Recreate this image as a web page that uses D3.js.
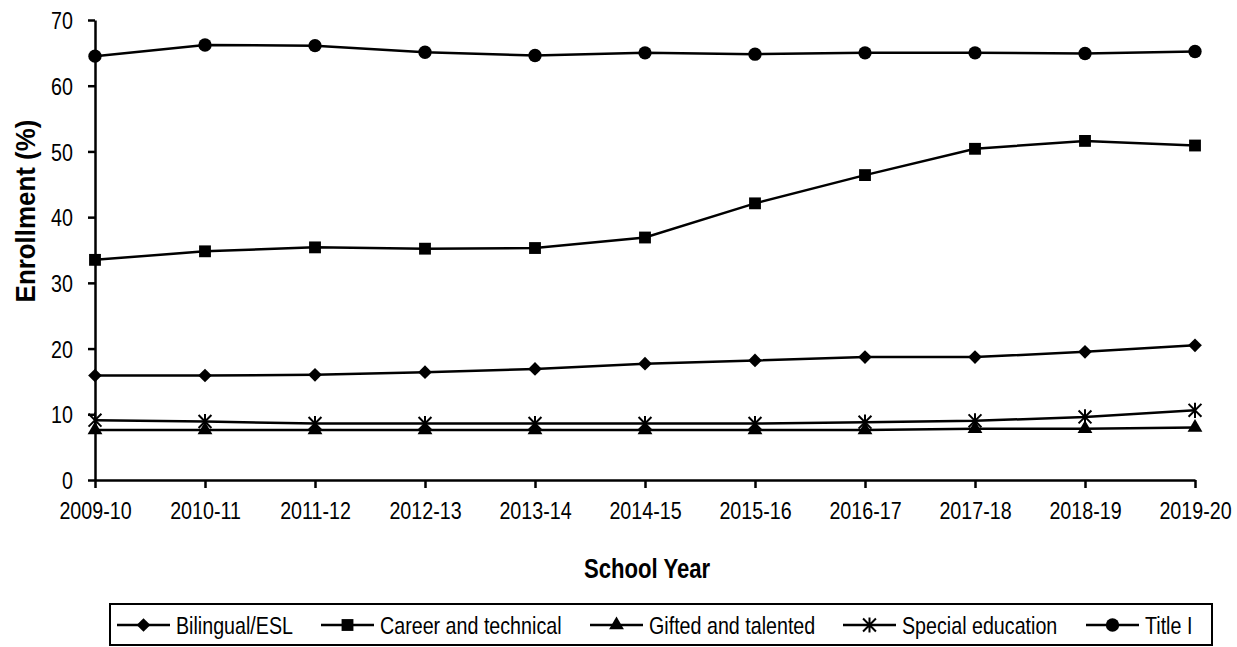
<!DOCTYPE html>
<html>
<head>
<meta charset="utf-8">
<script src="https://cdn.jsdelivr.net/npm/d3@7"></script>
<style>
  html, body { margin: 0; padding: 0; background: #fff; }
  svg { display: block; }
  text { font-family: "Liberation Sans", Arial, sans-serif; fill: #000; }
</style>
</head>
<body>
<svg id="chart" width="1237" height="647"></svg>
<script>
const years = ["2009-10","2010-11","2011-12","2012-13","2013-14","2014-15","2015-16","2016-17","2017-18","2018-19","2019-20"];
const bilingual = [15.9, 15.9, 16.0, 16.4, 16.9, 17.7, 18.2, 18.7, 18.7, 19.5, 20.5];
const career    = [33.5, 34.8, 35.4, 35.2, 35.3, 36.9, 42.1, 46.4, 50.4, 51.6, 50.9];
const gifted    = [7.6, 7.6, 7.6, 7.6, 7.6, 7.6, 7.6, 7.6, 7.8, 7.8, 8.0];
const special   = [9.1, 8.9, 8.6, 8.6, 8.6, 8.6, 8.6, 8.8, 9.0, 9.6, 10.6];
const titleI    = [64.5, 66.2, 66.1, 65.1, 64.6, 65.0, 64.8, 65.0, 65.0, 64.9, 65.2];
const yTicks = [0, 10, 20, 30, 40, 50, 60, 70];
const seriesNames = ["Bilingual/ESL", "Career and technical", "Gifted and talented", "Special education", "Title I"];
const xTitle = "School Year";
const yTitle = "Enrollment (%)";

const SX = 0.82; // horizontal squeeze to mimic a narrow face

const star = {
  draw(ctx, size) {
    const r = Math.sqrt(size) / 2;
    const d = r * 0.85;
    ctx.moveTo(0, -r); ctx.lineTo(0, r);
    ctx.moveTo(-d, -d); ctx.lineTo(d, d);
    ctx.moveTo(-d, d); ctx.lineTo(d, -d);
  }
};

const series = [
  { name: seriesNames[0], values: bilingual, symbol: d3.symbolDiamond2, size: 120, stroke: false },
  { name: seriesNames[1], values: career,    symbol: d3.symbolSquare,   size: 140, stroke: false },
  { name: seriesNames[2], values: gifted,    symbol: d3.symbolTriangle, size: 95,  stroke: false },
  { name: seriesNames[3], values: special,   symbol: star,              size: 230, stroke: true },
  { name: seriesNames[4], values: titleI,    symbol: d3.symbolCircle,   size: 140, stroke: false }
];

const svg = d3.select("#chart");
const x = d3.scalePoint().domain(years).range([95, 1195]);
const y = d3.scaleLinear().domain([0, 70]).range([480, 20]);

// axes
const yAxis = svg.append("g").attr("transform", "translate(95,0)")
  .call(d3.axisLeft(y).tickValues(yTicks).tickSize(7).tickPadding(9).tickSizeOuter(0));
const xAxis = svg.append("g").attr("transform", "translate(0,480)")
  .call(d3.axisBottom(x).tickSize(8).tickPadding(14).tickSizeOuter(0));
[yAxis, xAxis].forEach(a => {
  a.select(".domain").attr("stroke", "#000").attr("stroke-width", 2.5);
  a.selectAll(".tick line").attr("stroke", "#000").attr("stroke-width", 2.5);
  a.selectAll(".tick text").attr("font-size", 24).attr("fill", "#000")
    .attr("font-family", '"Liberation Sans", Arial, sans-serif');
});
yAxis.selectAll(".tick text").attr("dy", "0.36em").attr("x", -22 / SX).attr("transform", `scale(${SX},1)`);
xAxis.selectAll(".tick text").attr("transform", `scale(${SX},1)`);

// axis titles
svg.append("text").attr("transform", `translate(35,211) rotate(-90) scale(0.96,1)`)
  .attr("text-anchor", "middle").attr("font-size", 27).attr("font-weight", "bold").text(yTitle);
svg.append("text").attr("transform", `translate(647,578) scale(${SX},1)`)
  .attr("text-anchor", "middle").attr("font-size", 27).attr("font-weight", "bold").text(xTitle);

// lines and markers
const line = d3.line().x((d, i) => x(years[i])).y(d => y(d));
series.forEach(s => {
  svg.append("path").datum(s.values).attr("d", line)
    .attr("fill", "none").attr("stroke", "#000").attr("stroke-width", 2.5);
  svg.append("g").selectAll("path").data(s.values).join("path")
    .attr("transform", (d, i) => `translate(${x(years[i])},${y(d)})`)
    .attr("d", d3.symbol().type(s.symbol).size(s.size))
    .attr("fill", s.stroke ? "none" : "#000")
    .attr("stroke", s.stroke ? "#000" : "none")
    .attr("stroke-width", 2);
});

// legend
const legend = svg.append("g");
legend.append("rect").attr("x", 110).attr("y", 604).attr("width", 1102).attr("height", 41)
  .attr("fill", "#fff").attr("stroke", "#000").attr("stroke-width", 2);
const legendX = [117, 321, 590, 843, 1086];
series.forEach((s, i) => {
  const g = legend.append("g").attr("transform", `translate(${legendX[i]},625)`);
  g.append("line").attr("x1", 0).attr("x2", 53).attr("y1", 0).attr("y2", 0)
    .attr("stroke", "#000").attr("stroke-width", 2.5);
  g.append("path").attr("transform", "translate(26.5,0)")
    .attr("d", d3.symbol().type(s.symbol).size(s.size))
    .attr("fill", s.stroke ? "none" : "#000")
    .attr("stroke", s.stroke ? "#000" : "none").attr("stroke-width", 2);
  g.append("text").attr("transform", `translate(59,0) scale(${SX},1)`).attr("dy", "0.36em")
    .attr("font-size", 24).text(s.name);
});
</script>
</body>
</html>
